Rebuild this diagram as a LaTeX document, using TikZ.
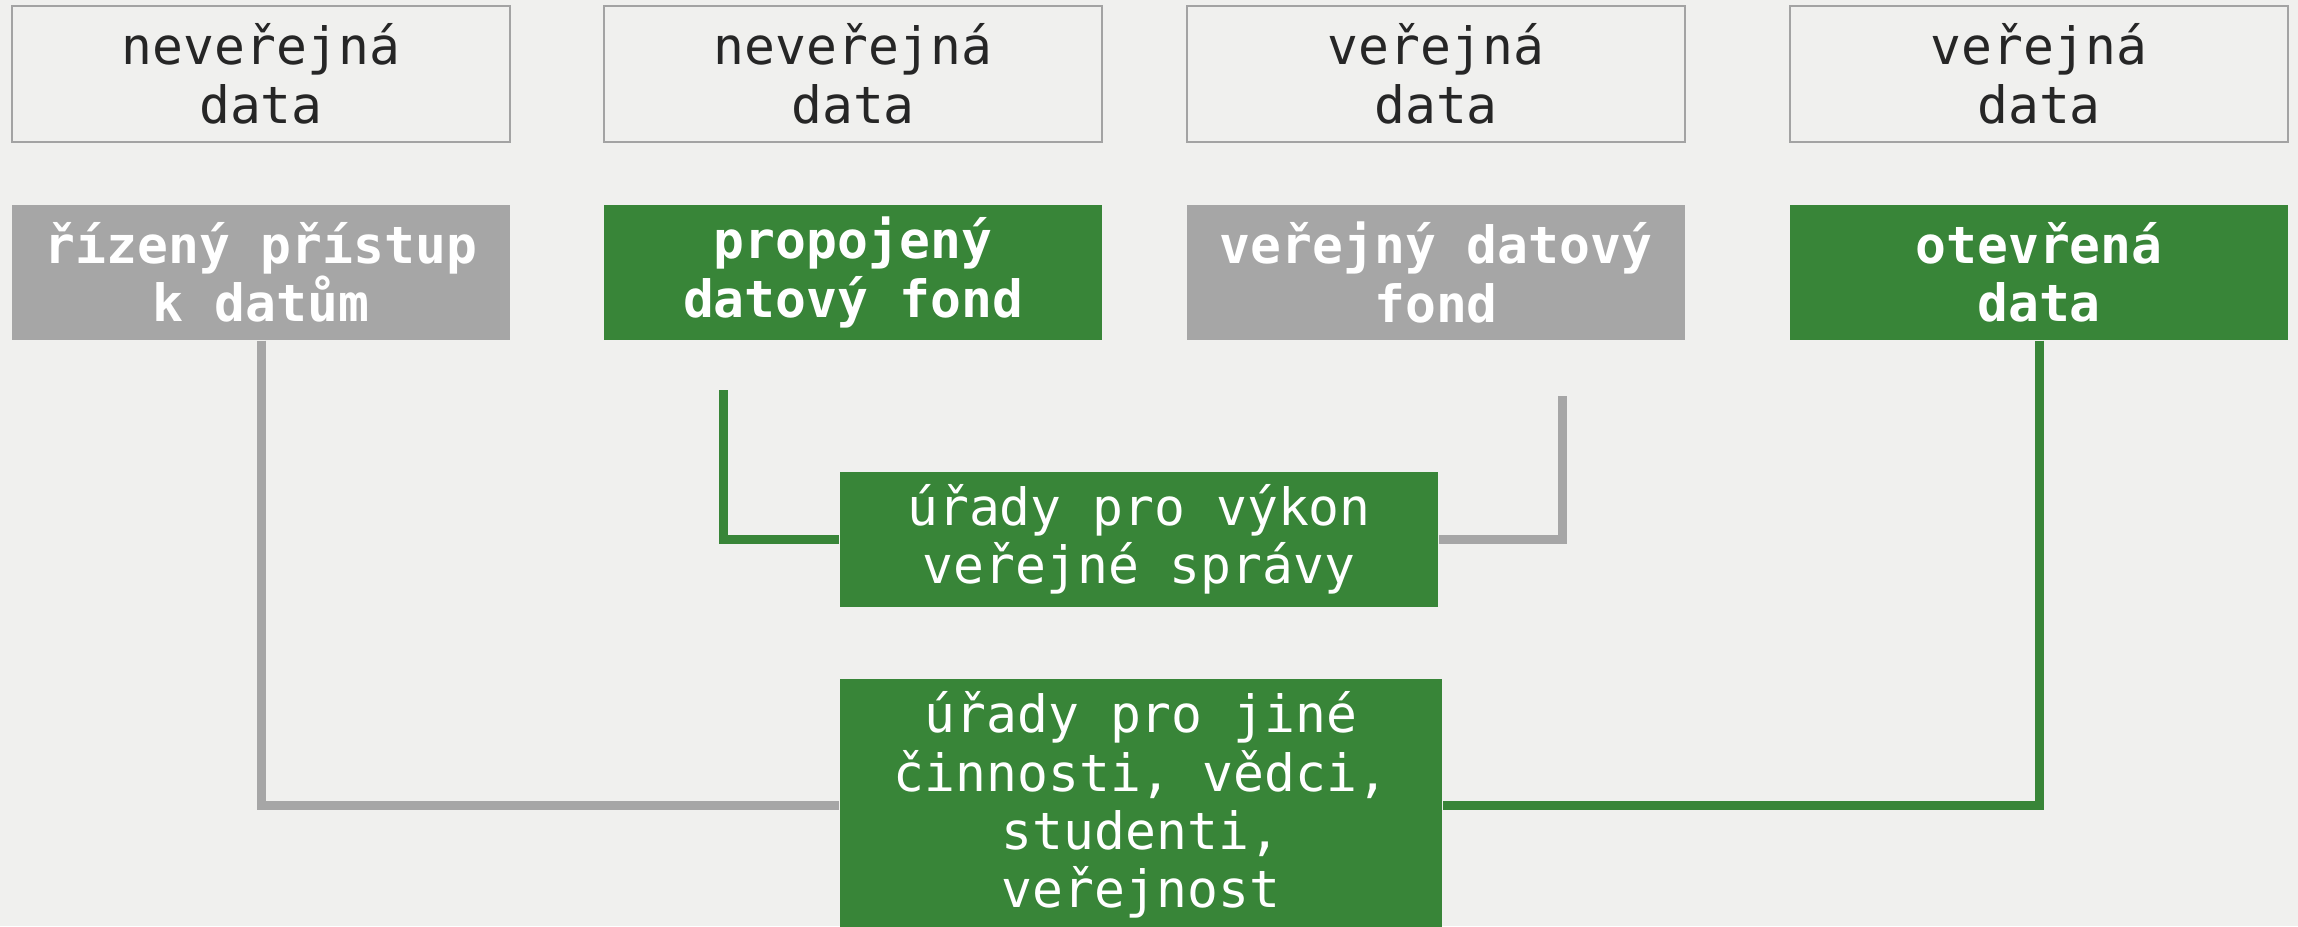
\documentclass[tikz,border=0pt]{standalone}
\usepackage{fontspec}
\usepackage{xcolor}
\usepackage{tikz}
\setmonofont{DejaVu Sans Mono}
\definecolor{boxgreen}{HTML}{388538}
\definecolor{boxgray}{HTML}{A6A6A6}
\definecolor{framegray}{HTML}{A3A3A3}
\definecolor{inkgray}{HTML}{262626}
\definecolor{paper}{HTML}{F0F0EE}

\begin{document}
\begin{tikzpicture}[
  datakind/.style={draw=framegray,line width=0.7pt,minimum width=4.98cm,minimum height=1.36cm,
    align=center,text=inkgray,font=\ttfamily\fontsize{14.6}{16.6}\selectfont},
  access/.style={minimum width=4.98cm,minimum height=1.35cm,align=center,text=white,
    font=\ttfamily\bfseries\fontsize{14.6}{16.6}\selectfont},
  user/.style={fill=boxgreen,minimum width=5.98cm,minimum height=1.35cm,align=center,text=white,
    font=\ttfamily\fontsize{14.6}{16.6}\selectfont},
  link/.style={line width=0.09cm}
]
				\fill[paper] (0,0) rectangle (22.98,-9.26);
				\useasboundingbox (0,0) rectangle (22.98,-9.26);

				\node[datakind] (priv1) at (2.61,-0.74) {neveřejná\\data};
				\node[datakind] (priv2) at (8.53,-0.74) {neveřejná\\data};
				\node[datakind] (pub1) at (14.36,-0.74) {veřejná\\data};
				\node[datakind] (pub2) at (20.39,-0.74) {veřejná\\data};

				\node[access,fill=boxgray] (ctl) at (2.61,-2.725) {řízený přístup\\k datům};
				\node[access,fill=boxgreen] (lnk) at (8.53,-2.725) {propojený\\datový fond};
				\node[access,fill=boxgray] (pool) at (14.36,-2.725) {veřejný datový\\fond};
				\node[access,fill=boxgreen] (opn) at (20.39,-2.725) {otevřená\\data};

				\node[user] (gov) at (11.39,-5.395) {úřady pro výkon\\veřejné správy};
				\node[user,minimum width=6.02cm,minimum height=2.52cm] (pub) at (11.41,-8.05)
					{úřady pro jiné\\činnosti, vědci,\\studenti,\\veřejnost};

				\coordinate (gtop) at (7.23,-3.90);
				\coordinate (rtop) at (15.62,-3.96);
				\draw[link,boxgreen] (gtop) |- (gov.west);
				\draw[link,boxgray] (rtop) |- (gov.east);
				\draw[link,boxgray] (ctl.south) |- (pub.west);
				\draw[link,boxgreen] (opn.south) |- (pub.east);
\end{tikzpicture}
\end{document}
